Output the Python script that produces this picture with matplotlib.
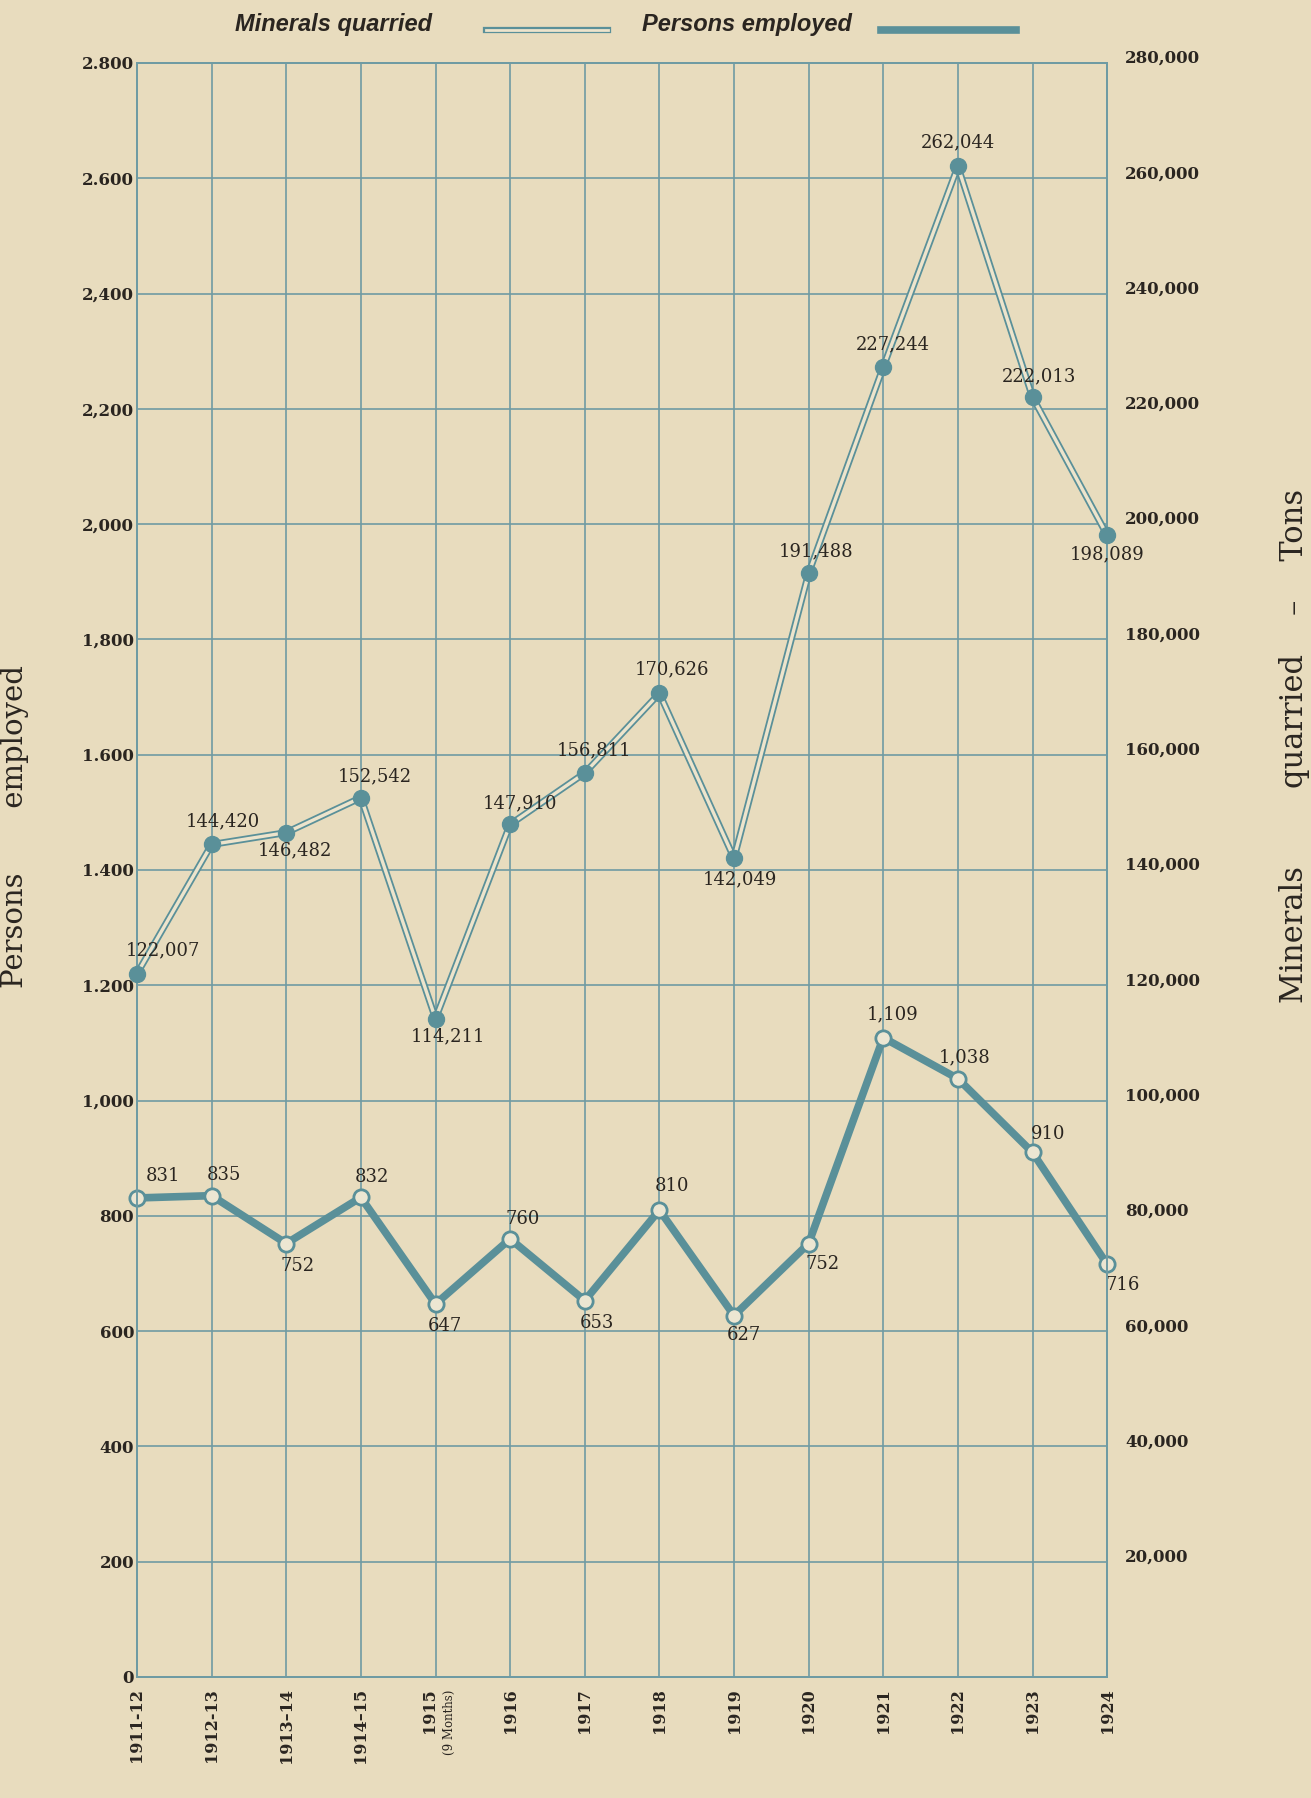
import matplotlib.pyplot as plt
from matplotlib.lines import Line2D

years = ["1911-12", "1912-13", "1913–14", "1914–15", "", "1916", "1917",
         "1918", "1919", "1920", "1921", "1922", "1923", "1924"]
minerals = [122007, 144420, 146482, 152542, 114211, 147910, 156811,
            170626, 142049, 191488, 227244, 262044, 222013, 198089]
persons = [831, 835, 752, 832, 647, 760, 653, 810, 627, 752, 1109, 1038, 910, 716]

left_ticks = list(range(0, 2801, 200))
left_labels = ["0", "200", "400", "600", "800", "1,000", "1.200", "1.400",
               "1.600", "1,800", "2,000", "2,200", "2,400", "2.600", "2.800"]
right_ticks = list(range(20000, 280001, 20000))
right_labels = [f"{t:,}" for t in right_ticks]

# where each value label sits relative to its point (points)
min_off = [(19, 17), (8, 17), (6, -13), (10, 15), (9, -13), (7, 15), (7, 16),
           (9, 17), (4, -15), (5, 16), (7, 16), (0, 17), (5, 15), (0, -14)]
per_off = [(19, 16), (9, 15), (8, -16), (8, 15), (7, -16), (9, 14), (9, -16),
           (9, 17), (7, -14), (10, -15), (7, 17), (5, 15), (11, 13), (11, -15)]

paper = "#e8dcbe"
teal = "#5a9099"
grid_c = "#6f9ba3"
ink = "#2a2520"
serif = "DejaVu Serif"

fig = plt.figure(figsize=(13.11, 17.98), dpi=100, facecolor=paper)
ax = fig.add_axes([0.1045, 0.0673, 0.7400, 0.8977])
ax.set_facecolor(paper)
x = list(range(len(years)))

ax.set_xlim(0, 13)
ax.set_ylim(0, 2800)
ax.set_xticks(x)
ax.set_xticklabels(years, rotation=90, va="top", ha="center",
                   fontsize=11.5, fontweight="bold", family=serif, color=ink)
ax.set_yticks(left_ticks)
ax.set_yticklabels(left_labels, fontsize=12, fontweight="bold", family=serif, color=ink)
ax.tick_params(axis="both", length=0)
ax.tick_params(axis="x", pad=8)
ax.tick_params(axis="y", pad=2)
ax.grid(True, color=grid_c, lw=1.2)
for s in ax.spines.values():
    s.set_color(grid_c)
    s.set_linewidth(1.4)

# the short 1915 season gets a two-part label
ax.annotate("1915", xy=(4, 0), xytext=(-4, -8), textcoords="offset points",
            rotation=90, ha="center", va="top", fontsize=11.5, fontweight="bold",
            family=serif, color=ink)
ax.annotate("(9 Months)", xy=(4, 0), xytext=(10, -9), textcoords="offset points",
            rotation=90, ha="center", va="top", fontsize=8.5, family=serif, color=ink)

# persons employed: thick line with hollow rings
ax.plot(x, persons, color=teal, lw=5.5, solid_joinstyle="miter", zorder=3, clip_on=False)
ax.plot(x, persons, ls="none", marker="o", ms=11, mfc="#ece6d2", mec=teal, mew=2,
        zorder=4, clip_on=False)
for i, v in enumerate(persons):
    ax.annotate(f"{v:,}", (i, v), xytext=per_off[i], textcoords="offset points",
                ha="center", va="center", fontsize=13, family=serif, color=ink, zorder=5)

ax.set_ylabel("Persons       employed", fontsize=21, family=serif, color=ink)
ax.yaxis.set_label_coords(-0.111, 0.527)

# minerals quarried: hollow double line with solid dots
ax2 = ax.twinx()
ax2.set_ylim(0, 280000)
ax2.set_yticks(right_ticks)
ax2.set_yticklabels(right_labels, fontsize=12, fontweight="bold", family=serif,
                    color=ink, va="baseline")
ax2.tick_params(axis="y", length=0, pad=13)
for s in ax2.spines.values():
    s.set_color(grid_c)
    s.set_linewidth(1.4)

ax2.plot(x, minerals, color=teal, lw=5, zorder=3, clip_on=False)
ax2.plot(x, minerals, color="#ede4cc", lw=2.4, zorder=3, clip_on=False)
ax2.plot(x, minerals, ls="none", marker="o", ms=11.5, color=teal, zorder=4, clip_on=False)
for i, v in enumerate(minerals):
    ax2.annotate(f"{v:,}", (i, v), xytext=min_off[i], textcoords="offset points",
                 ha="center", va="center", fontsize=13, family=serif, color=ink, zorder=5)

ax2.set_ylabel("Minerals        quarried    –    Tons", fontsize=22, family=serif,
               color=ink, rotation=90)
ax2.yaxis.set_label_coords(1.177, 0.577)

# key across the top
fig.text(0.179, 0.9865, "Minerals quarried", fontsize=17, fontweight="bold",
         style="italic", family="Liberation Sans", color=ink, va="center")
fig.add_artist(Line2D([0.371, 0.464], [0.9835, 0.9835], color=teal, lw=4.5))
fig.add_artist(Line2D([0.371, 0.464], [0.9835, 0.9835], color="#ede4cc", lw=2))
fig.text(0.490, 0.9865, "Persons employed", fontsize=17, fontweight="bold",
         style="italic", family="Liberation Sans", color=ink, va="center")
fig.add_artist(Line2D([0.672, 0.775], [0.9835, 0.9835], color=teal, lw=5.5))

fig.savefig("out.png", dpi=100, facecolor=paper)
